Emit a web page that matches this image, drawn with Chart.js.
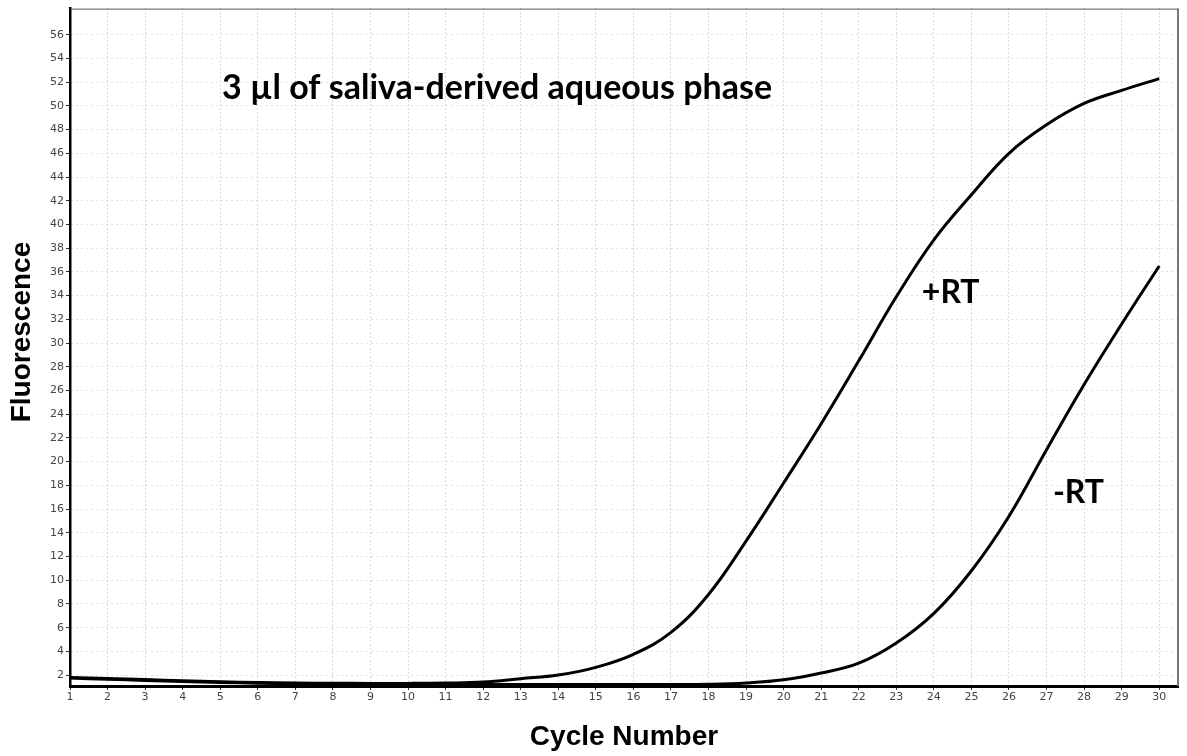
<!DOCTYPE html>
<html><head><meta charset="utf-8">
<script src="https://cdn.jsdelivr.net/npm/chart.js@4.4.1/dist/chart.umd.min.js"></script>
<style>html,body{margin:0;padding:0;background:#fff;}canvas{display:block;}</style>
</head><body>
<canvas id="c" width="1187" height="756"></canvas>
<script>
const cycles = [1,2,3,4,5,6,7,8,9,10,11,12,13,14,15,16,17,18,19,20,21,22,23,24,25,26,27,28,29,30];
const plusRT = [1.80,1.72,1.62,1.52,1.43,1.37,1.33,1.31,1.30,1.30,1.33,1.42,1.70,2.00,2.65,3.75,5.60,8.80,13.3,18.2,23.2,28.5,33.9,38.7,42.5,46.0,48.4,50.2,51.3,52.3];
const minusRT = [1.75,1.65,1.55,1.46,1.38,1.32,1.28,1.25,1.23,1.22,1.21,1.20,1.20,1.20,1.20,1.20,1.20,1.22,1.33,1.60,2.17,3.00,4.70,7.20,10.8,15.4,21.0,26.5,31.6,36.5];
const xTickValues = [1,2,3,4,5,6,7,8,9,10,11,12,13,14,15,16,17,18,19,20,21,22,23,24,25,26,27,28,29,30];
const yTickValues = [2,4,6,8,10,12,14,16,18,20,22,24,26,28,30,32,34,36,38,40,42,44,46,48,50,52,54,56];
const seriesLabels = ['+RT','-RT'];
const chartTitle = '3 µl of saliva-derived aqueous phase';
const xAxisTitle = 'Cycle Number';
const yAxisTitle = 'Fluorescence';

const annotate = {
  id: 'annotate',
  beforeDatasetsDraw(chart) {
    const {ctx, chartArea: a} = chart;
    ctx.save();
    ctx.strokeStyle = '#555';
    ctx.lineWidth = 1;
    ctx.beginPath(); ctx.moveTo(a.left, a.top + 0.5); ctx.lineTo(a.right, a.top + 0.5); ctx.stroke();
    ctx.lineWidth = 2;
    ctx.strokeStyle = '#777';
    ctx.beginPath(); ctx.moveTo(a.right, a.top); ctx.lineTo(a.right, a.bottom); ctx.stroke();
    ctx.restore();
  },
  afterDatasetsDraw(chart) {
    const {ctx, scales: {x, y}} = chart;
    ctx.save();
    ctx.fillStyle = '#000';
    ctx.textAlign = 'left';
    ctx.textBaseline = 'alphabetic';
    ctx.font = 'bold 34px Lato';
    ctx.fillText(chartTitle, x.getPixelForValue(5.05), y.getPixelForValue(50.6));
    ctx.font = 'bold 32px Lato';
    ctx.fillText(seriesLabels[0], x.getPixelForValue(23.68), y.getPixelForValue(33.4));
    ctx.fillText(seriesLabels[1], x.getPixelForValue(27.17), y.getPixelForValue(16.5));
    ctx.font = 'bold 28px "Liberation Sans", Arial, sans-serif';
    ctx.translate(22, 332);
    ctx.rotate(-Math.PI / 2);
    ctx.textAlign = 'center';
    ctx.textBaseline = 'middle';
    ctx.fillText(yAxisTitle, 0, 0);
    ctx.restore();
  }
};

const tickFont = {family: '"DejaVu Sans", sans-serif', size: 11};

new Chart(document.getElementById('c'), {
  type: 'line',
  data: {
    datasets: [
      {label: seriesLabels[0], data: cycles.map((c, i) => ({x: c, y: plusRT[i]})), borderColor: '#000', borderWidth: 3, pointRadius: 0, tension: 0.4, fill: false},
      {label: seriesLabels[1], data: cycles.map((c, i) => ({x: c, y: minusRT[i]})), borderColor: '#000', borderWidth: 3, pointRadius: 0, tension: 0.4, fill: false}
    ]
  },
  options: {
    responsive: false,
    devicePixelRatio: 1,
    animation: false,
    layout: {padding: {top: 6, right: 9, left: 0, bottom: 0}},
    plugins: {legend: {display: false}, tooltip: {enabled: false}, title: {display: false}},
    scales: {
      x: {
        type: 'linear', min: 1, max: 30.5,
        afterBuildTicks: s => { s.ticks = xTickValues.map(v => ({value: v})); },
        afterFit: s => { s.height = 70; },
        ticks: {font: tickFont, color: '#444', padding: 1, autoSkip: false, maxRotation: 0},
        grid: {color: '#b0b0b0', lineWidth: 1, tickLength: 4, tickColor: '#333'},
        border: {display: true, color: '#000', width: 3, dash: [1, 3]},
        title: {display: true, text: xAxisTitle, font: {family: '"Liberation Sans", Arial, sans-serif', size: 28, weight: 'bold'}, color: '#000', padding: {top: 0, bottom: 2}}
      },
      y: {
        type: 'linear', min: 1.08, max: 58.2,
        afterBuildTicks: s => { s.ticks = yTickValues.map(v => ({value: v})); },
        afterFit: s => { s.width = 70; },
        ticks: {font: tickFont, color: '#444', padding: 2, autoSkip: false},
        grid: {color: '#c4c4c4', lineWidth: 1, tickLength: 4, tickColor: '#333'},
        border: {display: true, color: '#000', width: 2.5, dash: [1, 4]}
      }
    }
  },
  plugins: [annotate]
});
</script>
</body></html>
